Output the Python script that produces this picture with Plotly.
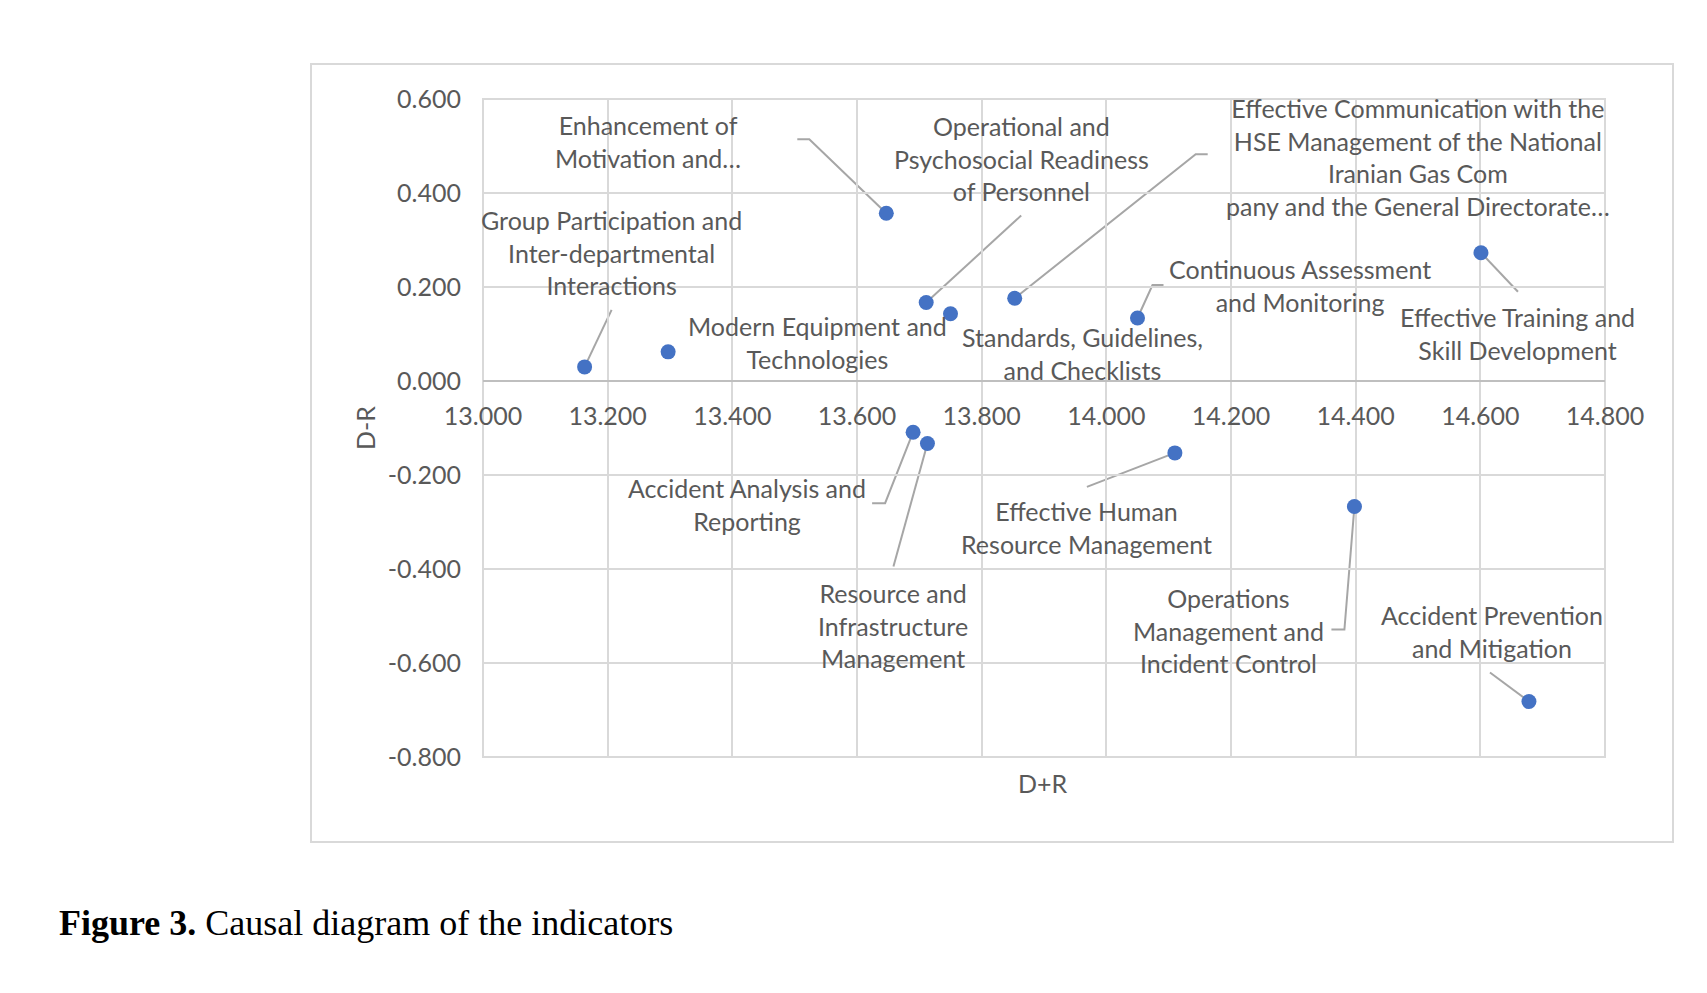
import plotly.graph_objects as go

# D+R / D-R values for each indicator
indicators = ["Enhancement of Motivation", "Group Participation", "Modern Equipment",
              "Operational Readiness", "Effective Communication", "Continuous Assessment",
              "Standards", "Effective Training", "Accident Analysis", "Resource and Infrastructure",
              "Human Resource", "Operations Management", "Accident Prevention"]
d_plus_r = [13.647, 13.163, 13.297, 13.711, 13.853, 14.050, 13.750, 14.601, 13.690, 13.713,
            14.110, 14.398, 14.678]
d_minus_r = [0.357, 0.030, 0.062, 0.167, 0.176, 0.134, 0.143, 0.273, -0.109, -0.133,
             -0.153, -0.267, -0.682]
label_texts = ["Enhancement of<br>Motivation and…",
               "Group Participation and<br>Inter-departmental<br>Interactions",
               "Modern Equipment and<br>Technologies",
               "Operational and<br>Psychosocial Readiness<br>of Personnel",
               "Effective Communication with the<br>HSE Management of the National<br>Iranian Gas Com<br>pany and the General Directorate…",
               "Continuous Assessment<br>and Monitoring",
               "Standards, Guidelines,<br>and Checklists",
               "Effective Training and<br>Skill Development",
               "Accident Analysis and<br>Reporting",
               "Resource and<br>Infrastructure<br>Management",
               "Effective Human<br>Resource Management",
               "Operations<br>Management and<br>Incident Control",
               "Accident Prevention<br>and Mitigation"]
y_ticks = [-0.8, -0.6, -0.4, -0.2, 0.0, 0.2, 0.4, 0.6]
y_tick_labels = ["-0.800", "-0.600", "-0.400", "-0.200", "0.000", "0.200", "0.400", "0.600"]

# label placement (pixels, up = positive) and leader line bends
label_shift = [(-238, 72), (27, 114), (149, 9), (95, 144), (403, 141), (162, 33), (132, -40),
               (37, -81), (-166, -72), (-34, -182), (-88, -75), (-126, -124), (-37, 70)]
leaders = [[(-89, 74), (-77, 74)], [(27, 57)], None, [(95, 87)], [(193, 144), (181, 144)],
           [(26, 33), (15, 33)], None, [(37, -39)], [(-41, -71), (-28, -71)], [(-34, -123)],
           [(-88, -34)], [(-23, -123), (-10, -123)], [(-39, 29)]]

x_range = [13.0, 14.8]
y_range = [-0.8, 0.6]
W, H = 1707, 993
L, R, T, B = 475, 110, 91, 244
grey = "#595959"
font_name = "Lato"


def px_x(p):
    return (p - L) / (W - L - R)


def px_y(p):
    return (H - B - p) / (H - T - B)


fig = go.Figure(go.Scatter(x=d_plus_r, y=d_minus_r, mode="markers", text=indicators,
                           marker=dict(size=15, color="#4472C4", line=dict(width=0)),
                           hoverinfo="text+x+y"))

for i in range(len(indicators)):
    fig.add_annotation(x=d_plus_r[i], y=d_minus_r[i], text=label_texts[i], showarrow=False,
                       xshift=label_shift[i][0], yshift=label_shift[i][1],
                       font=dict(family=font_name, size=25, color=grey))
    if leaders[i]:
        path = "M " + " L ".join("%d,%d" % p for p in leaders[i]) + " L 0,0"
        fig.add_shape(type="path", path=path, xsizemode="pixel", ysizemode="pixel",
                      xanchor=d_plus_r[i], yanchor=d_minus_r[i], xref="x", yref="y",
                      line=dict(color="#a6a6a6", width=2), layer="below")

# plot area border and chart border
fig.add_shape(type="rect", xref="x domain", yref="y domain", x0=0, x1=1, y0=0, y1=1,
              line=dict(color="#d9d9d9", width=2), layer="below")
fig.add_shape(type="rect", xref="paper", yref="paper", x0=px_x(303), x1=px_x(1665),
              y0=px_y(834), y1=px_y(56), line=dict(color="#d9d9d9", width=2))

fig.add_annotation(xref="paper", yref="paper", x=px_x(1035), y=px_y(792), text="D+R",
                   showarrow=False, font=dict(family=font_name, size=25, color=grey))
fig.add_annotation(xref="paper", yref="paper", x=px_x(340), y=px_y(420), text="D-R",
                   textangle=-90, showarrow=False, font=dict(family=font_name, size=25, color=grey))
fig.add_annotation(xref="paper", yref="paper", x=px_x(49), y=px_y(937), xanchor="left",
                   text="<b>Figure 3.</b> Causal diagram of the indicators", showarrow=False,
                   font=dict(family="Liberation Serif", size=36, color="black"))

fig.update_xaxes(range=x_range, dtick=0.2, tickformat=".3f", showgrid=True, gridcolor="#d9d9d9",
                 gridwidth=1.5, zeroline=False, showline=False, ticks="",
                 anchor="free", position=(0 - y_range[0]) / (y_range[1] - y_range[0]),
                 ticklabelstandoff=18, tickfont=dict(family=font_name, size=25, color=grey))
fig.update_yaxes(range=y_range, tickvals=y_ticks, ticktext=y_tick_labels, showgrid=True,
                 gridcolor="#d9d9d9", gridwidth=1.5, zeroline=True, zerolinecolor="#bfbfbf",
                 zerolinewidth=2, showline=False, ticks="", ticklabelstandoff=21,
                 tickfont=dict(family=font_name, size=25, color=grey))
fig.update_layout(width=W, height=H, margin=dict(l=L, r=R, t=T, b=B), showlegend=False,
                  plot_bgcolor="white", paper_bgcolor="white")
fig.write_html("out.html")
